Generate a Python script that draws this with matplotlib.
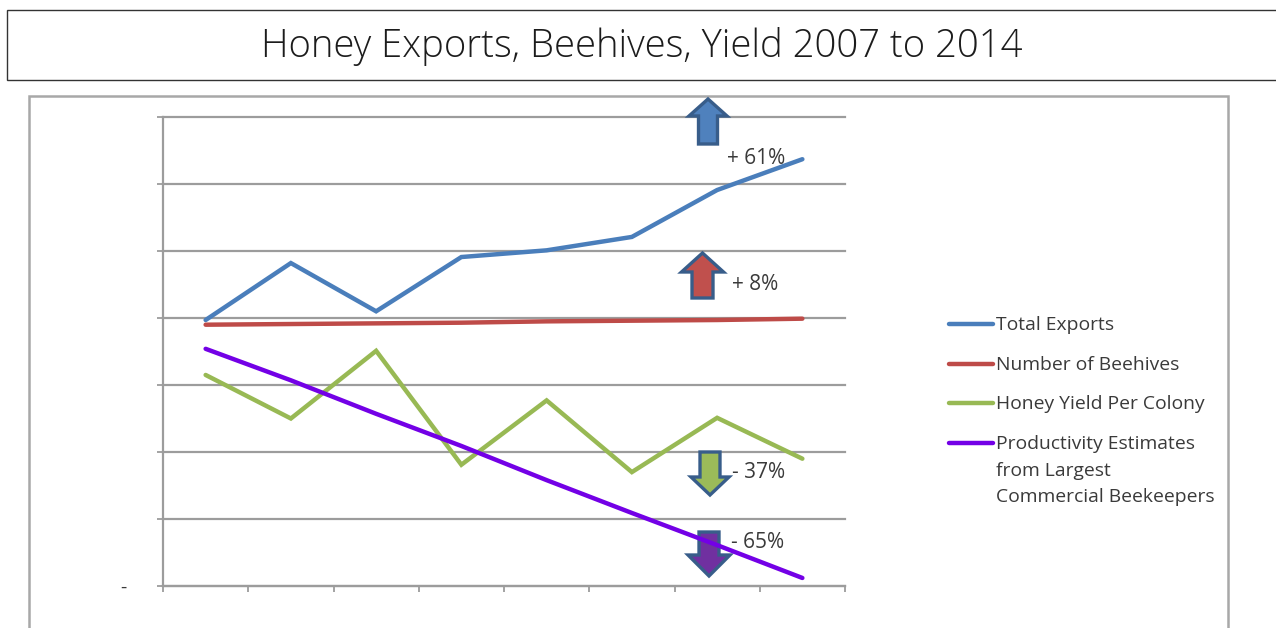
import matplotlib
matplotlib.use("Agg")
import matplotlib.pyplot as plt
from matplotlib.patches import Polygon, Rectangle

plt.rcParams['font.family'] = ['Open Sans', 'DejaVu Sans']

W, H = 1276, 628
TITLE = "Honey Exports, Beehives, Yield 2007 to 2014"
periods = list(range(8))

series_names = ["Total Exports", "Number of Beehives", "Honey Yield Per Colony",
                "Productivity Estimates\nfrom Largest\nCommercial Beekeepers"]
total_exports = [3.97, 4.82, 4.10, 4.91, 5.01, 5.21, 5.91, 6.37]
beehives = [3.90, 3.91, 3.92, 3.93, 3.95, 3.96, 3.97, 3.99]
honey_yield = [3.15, 2.50, 3.51, 1.81, 2.77, 1.70, 2.51, 1.90]
productivity = [3.54, 3.07, 2.57, 2.09, 1.58, 1.09, 0.61, 0.12]
series_colors = ["#4a7ebb", "#be4b48", "#98b954", "#7300e6"]

change_labels = ["+ 61%", "+ 8%", "- 37%", "- 65%"]
arrow_fills = ["#4f81bd", "#c0504d", "#9bbb59", "#7030a0"]
GRID = "#9c9c9c"
TEXT = "#3a3a3a"


def px_axes(fig, left, top, right, bottom):
    return fig.add_axes([left / W, 1 - bottom / H, (right - left) / W, (bottom - top) / H])


fig = plt.figure(figsize=(W / 100, H / 100), dpi=100, facecolor="white")

# Page furniture in pixel coordinates: title box, chart frame, legend
page = fig.add_axes([0, 0, 1, 1], zorder=0)
page.set_xlim(0, W)
page.set_ylim(H, 0)
page.axis("off")
page.add_patch(Rectangle((7, 9.5), 1290, 70, fc="white", ec="#333333", lw=1.0, clip_on=False))
page.text(641.5, 46, TITLE, ha="center", va="center", fontsize=27.5, color="#1c1c1c",
          fontweight="light")
page.add_patch(Rectangle((29, 96), 1199, 560, fc="white", ec="#a8a8a8", lw=1.8))

# Line chart
ax = px_axes(fig, 163, 117, 845, 586)
ax.set_zorder(1)
ax.patch.set_alpha(0)
ax.set_xlim(-0.5, 7.5)
ax.set_ylim(0, 7)
ax.set_yticks(range(8))
ax.set_yticklabels(["-"] + [""] * 7, fontsize=14, color=TEXT)
ax.set_xticks([i - 0.5 for i in range(9)])
ax.set_xticklabels([])
ax.grid(axis="y", color=GRID, lw=1.6)
for gridline in ax.get_ygridlines():
    gridline.set_clip_on(False)
ax.set_axisbelow(True)
ax.tick_params(axis="both", color=GRID, width=1.3, length=4.5, pad=22)
for side in ("top", "right"):
    ax.spines[side].set_visible(False)
for side in ("left", "bottom"):
    ax.spines[side].set_color(GRID)
    ax.spines[side].set_linewidth(1.6)

for values, color in zip([total_exports, beehives, honey_yield, productivity], series_colors):
    ax.plot(periods, values, color=color, lw=3.2, solid_capstyle="round",
            solid_joinstyle="miter", clip_on=False, zorder=3)


# Block arrows sit over the gridlines and under the series lines
def block_arrow(x, tail, neck, tip, half_head, half_shaft, fill):
    ax.add_patch(Polygon(
        [(x - half_shaft, tail), (x + half_shaft, tail), (x + half_shaft, neck),
         (x + half_head, neck), (x, tip), (x - half_head, neck), (x - half_shaft, neck)],
        closed=True, fc=fill, ec="#385d8a", lw=2.4, joinstyle="miter",
        transform=page.transData, clip_on=False, zorder=2.5))


block_arrow(708, 144, 116, 99, 19, 9.5, arrow_fills[0])
block_arrow(702.5, 298, 272, 253, 21, 10.5, arrow_fills[1])
block_arrow(710, 452, 477, 495, 19, 10, arrow_fills[2])
block_arrow(709, 532, 555, 576, 21, 10, arrow_fills[3])

for (x, y), label in zip([(727, 158), (732, 284), (732, 472), (731, 542)], change_labels):
    ax.text(x, y, label, ha="left", va="center", fontsize=15, color=TEXT,
            transform=page.transData, zorder=4)

# Hand-placed legend so each key sits on the first line of its label
for y, name, color in zip([324, 364, 403, 443], series_names, series_colors):
    page.plot([949, 993], [y, y], color=color, lw=3.2, solid_capstyle="round")
    page.text(996, y - 8, name, ha="left", va="top", fontsize=13.9, color=TEXT,
              linespacing=1.62)

fig.savefig("out.png", dpi=100)
